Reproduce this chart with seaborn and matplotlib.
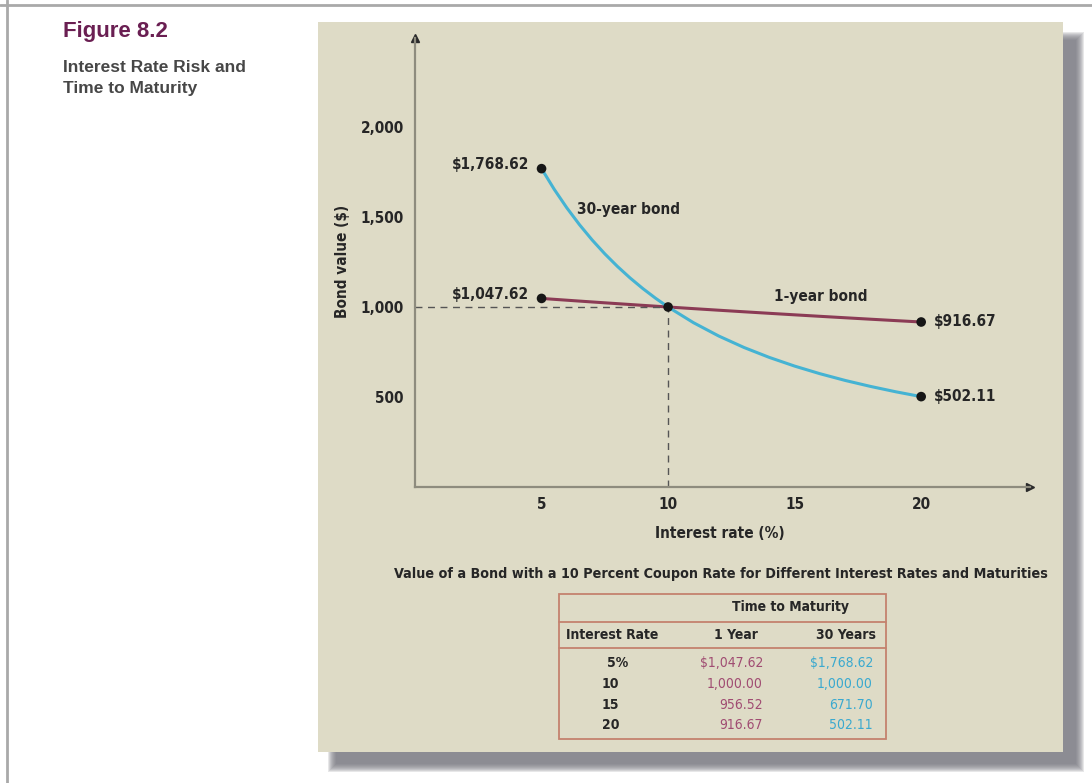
import pandas as pd
import seaborn as sns
import matplotlib.pyplot as plt
from matplotlib.patches import Rectangle
from matplotlib.lines import Line2D

# --- data ---
rates = [5, 5.5, 6, 6.5, 7, 7.5, 8, 8.5, 9, 9.5, 10, 11, 12, 13, 14, 15, 16, 17, 18, 19, 20]
one_year = [1047.62, 1042.65, 1037.74, 1032.86, 1028.04, 1023.26, 1018.52, 1013.82, 1009.17,
            1004.57, 1000.00, 990.99, 982.14, 973.45, 964.91, 956.52, 948.28, 940.17, 932.20,
            924.37, 916.67]
thirty_year = [1768.62, 1654.0, 1550.6, 1457.1, 1372.3, 1295.3, 1225.2, 1161.2, 1102.7,
               1049.2, 1000.00, 913.1, 838.9, 775.1, 719.9, 671.70, 629.4, 591.9, 558.7,
               528.9, 502.11]
table_rates = [5, 10, 15, 20]
y_ticks = [500, 1000, 1500, 2000]
x_ticks = [5, 10, 15, 20]

C_ONE = '#8b3b55'
C_THIRTY = '#45b3d3'
C_TXT = '#262626'
C_AXIS = '#8e8c7e'
C_BORDER = '#c4826e'

df = pd.DataFrame({
    'rate': rates * 2,
    'value': one_year + thirty_year,
    'bond': ['1-year bond'] * len(rates) + ['30-year bond'] * len(rates),
})

W, H = 1092, 783


def fx(px):
    return px / W


def fy(py):
    return 1 - py / H


def box(x0, y0, x1, y1, **kw):
    return Rectangle((fx(x0), fy(y1)), (x1 - x0) / W, (y1 - y0) / H,
                     transform=fig.transFigure, **kw)


sns.set_style('white')
plain = ['Liberation Sans', 'DejaVu Sans']
plt.rcParams['font.family'] = ['DejaVu Sans']
plt.rcParams['font.stretch'] = 'condensed'
plt.rcParams['font.weight'] = 'bold'

fig = plt.figure(figsize=(10.92, 7.83), dpi=100)
fig.patch.set_facecolor('white')

# page frame, soft shadow and beige panel
fig.add_artist(Line2D([0, 1], [fy(5), fy(5)], transform=fig.transFigure, color='#a9a9a9', lw=2))
fig.add_artist(Line2D([fx(7), fx(7)], [0, 1], transform=fig.transFigure, color='#a9a9a9', lw=2))
for g in range(8, -1, -1):
    fig.add_artist(box(336 - g, 40 - g, 1076 + g, 764 + g, color='#74747c', alpha=0.17,
                       lw=0, zorder=-3))
fig.add_artist(box(318, 22, 1063, 752, color='#dedbc6', lw=0, zorder=-2))

# title block
fig.text(fx(63), fy(32), 'Figure 8.2', family=plain, stretch='normal', fontsize=16,
         weight='bold', color='#6a1f52', va='center')
fig.text(fx(63), fy(67), 'Interest Rate Risk and', family=plain, stretch='normal',
         fontsize=12.5, weight='bold', color='#474747', va='center')
fig.text(fx(63), fy(88), 'Time to Maturity', family=plain, stretch='normal',
         fontsize=12.5, weight='bold', color='#474747', va='center')

# --- main chart ---
ax = fig.add_axes([fx(415), fy(487), (1030 - 415) / W, (487 - 38) / H])
ax.set_facecolor('none')
ax.set_xlim(0, 24.3)
ax.set_ylim(0, 449 / 0.18)

sns.lineplot(data=df, x='rate', y='value', hue='bond',
             palette={'1-year bond': C_ONE, '30-year bond': C_THIRTY},
             linewidth=2.2, legend=False, ax=ax)

# dashed guides through the common point
cross = df[(df['rate'] == 10) & (df['bond'] == '1-year bond')].iloc[0]
ax.plot([0, cross['rate']], [cross['value'], cross['value']], ls=(0, (5, 4)), color='#555555', lw=1)
ax.plot([cross['rate'], cross['rate']], [0, cross['value']], ls=(0, (5, 4)), color='#555555', lw=1)

ends = df[df['rate'].isin([min(rates), max(rates)])]
pts = pd.concat([ends, cross.to_frame().T])
sns.scatterplot(data=pts, x='rate', y='value', color='#161616', s=48, edgecolor='none',
                zorder=5, ax=ax)

# value labels at the end points
for _, r in ends.iterrows():
    label = f"${r['value']:,.2f}"
    if r['rate'] == min(rates):
        off, ha = (-9, 3), 'right'
    else:
        off, ha = (9, 0), 'left'
    ax.annotate(label, (r['rate'], r['value']), xytext=off, textcoords='offset points',
                ha=ha, va='center', fontsize=11, color=C_TXT)

ax.text(6.4, 1539, '30-year bond', fontsize=11, color=C_TXT, va='center')
ax.text(14.2, 1061, '1-year bond', fontsize=11, color=C_TXT, va='center')

# axes styling
sns.despine(ax=ax)
for s in ['left', 'bottom']:
    ax.spines[s].set_color(C_AXIS)
    ax.spines[s].set_linewidth(1.6)
ax.plot(0, 1, marker='^', ms=6, color='#2a2a2a', transform=ax.transAxes, clip_on=False)
ax.plot(1, 0, marker='>', ms=6, color='#2a2a2a', transform=ax.transAxes, clip_on=False)
ax.set_xticks(x_ticks)
ax.set_xticklabels([str(t) for t in x_ticks])
ax.set_yticks(y_ticks)
ax.set_yticklabels([f'{t:,}' for t in y_ticks])
ax.tick_params(direction='in', length=6, width=1.2, color=C_AXIS, labelsize=11,
               labelcolor=C_TXT)
ax.tick_params(axis='y', pad=8)
ax.tick_params(axis='x', pad=7)
ax.set_xlabel('Interest rate (%)', fontsize=11, color=C_TXT, weight='bold')
ax.set_ylabel('Bond value ($)', fontsize=11, color=C_TXT, weight='bold')
ax.xaxis.set_label_coords(0.496, -0.087)
ax.yaxis.set_label_coords(-0.106, 0.503)

fig.text(fx(721), fy(574), 'Value of a Bond with a 10 Percent Coupon Rate for Different '
         'Interest Rates and Maturities', fontsize=10.3, color=C_TXT, ha='center', va='center')

# --- table ---
fig.add_artist(box(559, 594, 886, 739, fill=False, edgecolor=C_BORDER, lw=1.3))
for yl in [622, 648]:
    fig.add_artist(Line2D([fx(559), fx(886)], [fy(yl), fy(yl)], transform=fig.transFigure,
                          color=C_BORDER, lw=1.3))
fs = 10
fig.text(fx(790), fy(607), 'Time to Maturity', fontsize=fs, color=C_TXT, ha='center', va='center')
fig.text(fx(612), fy(635), 'Interest Rate', fontsize=fs, color=C_TXT, ha='center', va='center')
fig.text(fx(736), fy(635), '1 Year', fontsize=fs, color=C_TXT, ha='center', va='center')
fig.text(fx(846), fy(635), '30 Years', fontsize=fs, color=C_TXT, ha='center', va='center')

row_y = [663, 684, 705, 725]
for i, rt in enumerate(table_rates):
    v1 = one_year[rates.index(rt)]
    v30 = thirty_year[rates.index(rt)]
    if i == 0:
        fig.text(fx(607), fy(row_y[i]), f'{rt}%', fontsize=fs, color=C_TXT, va='center')
        s1, s30 = f'${v1:,.2f}', f'${v30:,.2f}'
    else:
        fig.text(fx(602), fy(row_y[i]), f'{rt}', fontsize=fs, color=C_TXT, va='center')
        s1, s30 = f'{v1:,.2f}', f'{v30:,.2f}'
    fig.text(fx(763), fy(row_y[i]), s1, fontsize=fs, weight='normal', color='#a04c72',
             ha='right', va='center')
    fig.text(fx(873), fy(row_y[i]), s30, fontsize=fs, weight='normal', color='#3aa9cf',
             ha='right', va='center')

fig.savefig('out.png', dpi=100)
